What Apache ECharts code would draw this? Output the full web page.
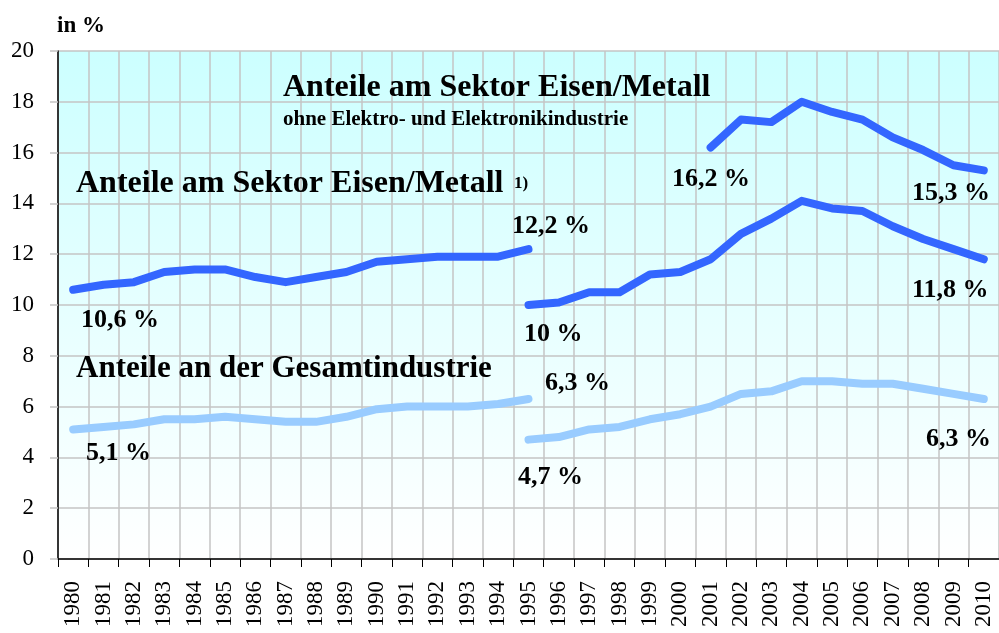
<!DOCTYPE html>
<html>
<head>
<meta charset="utf-8">
<script src="https://cdn.jsdelivr.net/npm/echarts@6/dist/echarts.min.js"></script>
<style>
  html, body { margin: 0; padding: 0; background: #fff; }
  #chart { width: 999px; height: 633px; }
</style>
</head>
<body>
<div id="chart"></div>
<script>
// Jahre 1980-2010
const years = [];
for (let y = 1980; y <= 2010; y++) years.push(String(y));

const yTicks = [0, 2, 4, 6, 8, 10, 12, 14, 16, 18, 20];

// Anteile am Sektor Eisen/Metall 1) (1980-1995, alte Abgrenzung)
const eisenAlt = [10.6, 10.8, 10.9, 11.3, 11.4, 11.4, 11.1, 10.9, 11.1, 11.3, 11.7, 11.8, 11.9, 11.9, 11.9, 12.2];
// Anteile am Sektor Eisen/Metall (1995-2010)
const eisenNeu = [10.0, 10.1, 10.5, 10.5, 11.2, 11.3, 11.8, 12.8, 13.4, 14.1, 13.8, 13.7, 13.1, 12.6, 12.2, 11.8];
// ohne Elektro- und Elektronikindustrie (2001-2010)
const ohneElektro = [16.2, 17.3, 17.2, 18.0, 17.6, 17.3, 16.6, 16.1, 15.5, 15.3];
// Anteile an der Gesamtindustrie
const gesamtAlt = [5.1, 5.2, 5.3, 5.5, 5.5, 5.6, 5.5, 5.4, 5.4, 5.6, 5.9, 6.0, 6.0, 6.0, 6.1, 6.3];
const gesamtNeu = [4.7, 4.8, 5.1, 5.2, 5.5, 5.7, 6.0, 6.5, 6.6, 7.0, 7.0, 6.9, 6.9, 6.7, 6.5, 6.3];

// auf die volle Jahresachse legen
function place(values, startYear) {
  const out = years.map(() => null);
  const off = startYear - 1980;
  values.forEach((v, i) => { out[off + i] = v; });
  return out;
}
const fmt = v => String(v).replace('.', ',') + ' %';

const FONT = '"Liberation Serif", "DejaVu Serif", serif';
const DARK = '#3366ff';
const LIGHT = '#99ccff';

function line(name, data, color) {
  return {
    name: name, type: 'line', data: data, symbol: 'none', connectNulls: false,
    lineStyle: { color: color, width: 8, cap: 'round', join: 'round' },
    z: 5
  };
}

function txt(x, y, text, size, weight) {
  return {
    type: 'text', left: x, top: y, z: 20,
    style: { text: text, font: (weight || 'bold') + ' ' + size + 'px ' + FONT, fill: '#000' }
  };
}

const chart = echarts.init(document.getElementById('chart'));
chart.setOption({
  animation: false,
  backgroundColor: '#fff',
  grid: {
    left: 58, top: 51, width: 942, height: 508, show: true, borderWidth: 0,
    backgroundColor: { type: 'linear', x: 0, y: 0, x2: 0, y2: 1,
      colorStops: [{ offset: 0, color: '#ccffff' }, { offset: 1, color: '#ffffff' }] }
  },
  xAxis: {
    type: 'category', data: years, boundaryGap: true,
    axisLine: { lineStyle: { color: '#000', width: 1.5 } },
    axisTick: { show: true, length: 8, lineStyle: { color: '#000', width: 1 } },
    axisLabel: { rotate: 90, interval: 0, margin: 22, color: '#000', fontFamily: FONT, fontSize: 23 },
    splitLine: { show: true, interval: 0, lineStyle: { color: '#c4c4c4', width: 1.5 } }
  },
  yAxis: {
    type: 'value', min: 0, max: 20, interval: 2,
    axisLine: { show: true, lineStyle: { color: '#000', width: 1.5 } },
    axisTick: { show: true, length: 8, lineStyle: { color: '#c4c4c4', width: 1.5 } },
    axisLabel: { margin: 24, color: '#000', fontFamily: FONT, fontSize: 23,
      formatter: v => yTicks.includes(v) ? String(v) : '' },
    splitLine: { show: true, lineStyle: { color: '#c4c4c4', width: 1.5 } }
  },
  series: [
    line('Eisen/Metall alt', place(eisenAlt, 1980), DARK),
    line('Eisen/Metall', place(eisenNeu, 1995), DARK),
    line('ohne Elektro', place(ohneElektro, 2001), DARK),
    line('Gesamtindustrie alt', place(gesamtAlt, 1980), LIGHT),
    line('Gesamtindustrie', place(gesamtNeu, 1995), LIGHT)
  ],
  graphic: [
    txt(57, 15, 'in %', 23),
    txt(283, 72, 'Anteile am Sektor Eisen/Metall', 32),
    txt(283, 109, 'ohne Elektro- und Elektronikindustrie', 21),
    txt(76, 168, 'Anteile am Sektor Eisen/Metall', 32),
    txt(514, 175, '1)', 17),
    txt(76, 353, 'Anteile an der Gesamtindustrie', 31),
    txt(81, 307, fmt(eisenAlt[0]), 26),
    txt(512, 213, fmt(eisenAlt[eisenAlt.length - 1]), 26),
    txt(672, 166, fmt(ohneElektro[0]), 26),
    txt(912, 180, fmt(ohneElektro[ohneElektro.length - 1]), 26),
    txt(524, 321, fmt(eisenNeu[0]), 26),
    txt(912, 277, fmt(eisenNeu[eisenNeu.length - 1]), 26),
    txt(545, 370, fmt(gesamtAlt[gesamtAlt.length - 1]), 26),
    txt(86, 440, fmt(gesamtAlt[0]), 26),
    txt(518, 464, fmt(gesamtNeu[0]), 26),
    txt(926, 426, fmt(gesamtNeu[gesamtNeu.length - 1]), 26)
  ]
});
</script>
</body>
</html>
